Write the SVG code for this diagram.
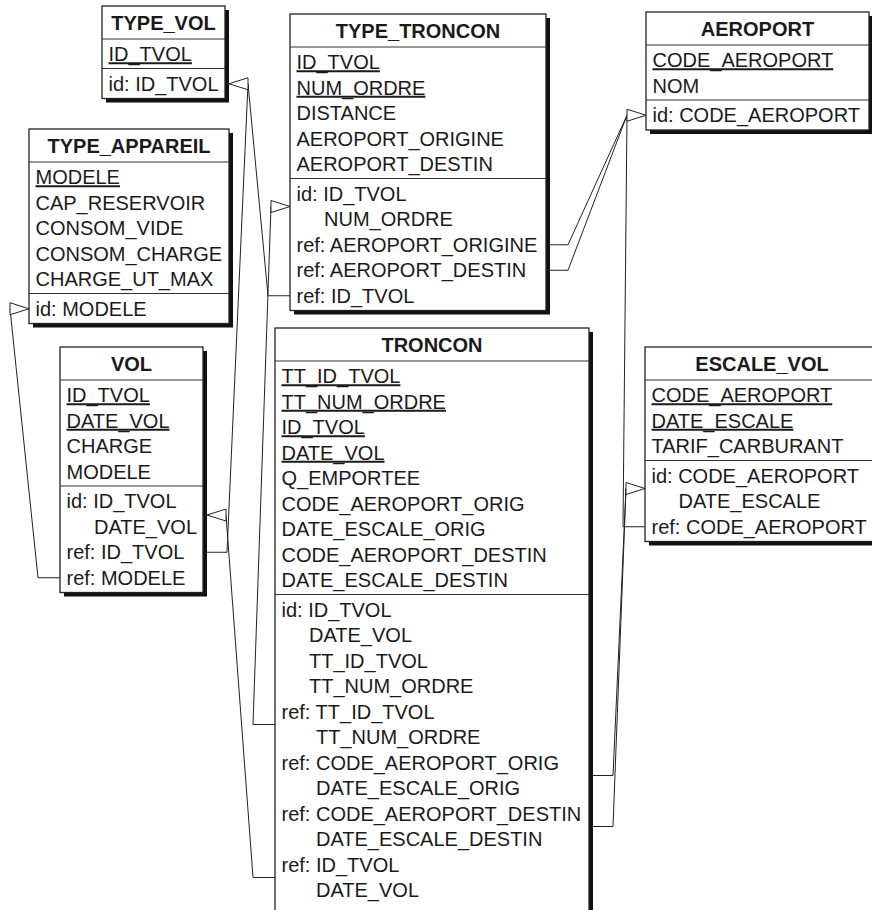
<svg xmlns="http://www.w3.org/2000/svg" xmlns:xlink="http://www.w3.org/1999/xlink" width="872" height="910" viewBox="0 0 872 910">
<style>
.shadow{fill:#111}
.box{fill:#fff;stroke:#222;stroke-width:1.3}
.sep{stroke:#333;stroke-width:1}
text{font-family:"Liberation Sans",Arial,Helvetica,sans-serif;font-size:20px;fill:#1a1a1a}
.title{font-weight:bold;text-anchor:middle}
.pk{text-decoration:underline}
.conn{fill:none;stroke:#222;stroke-width:1}
.arrow{fill:#fff;stroke:#222;stroke-width:1}
</style>
<defs>
<path id="arrR" class="arrow" d="M0,0 L-19,-6 L-19,6 Z"/>
<path id="arrL" class="arrow" d="M0,0 L19,-6 L19,6 Z"/>
</defs>
<rect width="872" height="910" fill="#fff"/>

<g id="connectors">
<polyline class="conn" points="290,295.75 268,295.75 248,83.75"/>
<polyline class="conn" points="207,552.25 227,552.25 248,83.75"/>
<use xlink:href="#arrL" x="229" y="83.75"/>
<polyline class="conn" points="60,577.75 38,577.75 10,308.75"/>
<use xlink:href="#arrR" x="29" y="308.75"/>
<polyline class="conn" points="275,724.5 253,724.5 271,206.5"/>
<use xlink:href="#arrR" x="290" y="206.5"/>
<polyline class="conn" points="275,877.5 253,877.5 226,515"/>
<use xlink:href="#arrL" x="207" y="515"/>
<polyline class="conn" points="550,244.75 568,244.75 627,115.25"/>
<polyline class="conn" points="550,270.25 568,270.25 627,115.25"/>
<polyline class="conn" points="645,526.75 623,526.75 627,115.25"/>
<use xlink:href="#arrR" x="646" y="115.25"/>
<polyline class="conn" points="593,775.5 613,775.5 626,488.5"/>
<polyline class="conn" points="593,826.5 613,826.5 626,488.5"/>
<use xlink:href="#arrR" x="645" y="488.5"/>
</g>

<g id="TYPE_VOL">
<rect class="shadow" x="106" y="10" width="123" height="92.5"/>
<rect class="box" x="102" y="6" width="123" height="92.5"/>
<line class="sep" x1="102" y1="39" x2="225" y2="39"/>
<line class="sep" x1="102" y1="68.5" x2="225" y2="68.5"/>
<text class="title" x="163.5" y="29.5">TYPE_VOL</text>
<text class="pk" x="108.5" y="61.25">ID_TVOL</text>
<text x="108.5" y="90.75">id: ID_TVOL</text>
</g>

<g id="TYPE_TRONCON">
<rect class="shadow" x="294" y="18" width="256" height="296.5"/>
<rect class="box" x="290" y="14" width="256" height="296.5"/>
<line class="sep" x1="290" y1="47" x2="546" y2="47"/>
<line class="sep" x1="290" y1="178.5" x2="546" y2="178.5"/>
<text class="title" x="418" y="37.5">TYPE_TRONCON</text>
<text class="pk" x="296.5" y="69.25">ID_TVOL</text>
<text class="pk" x="296.5" y="94.75">NUM_ORDRE</text>
<text x="296.5" y="120.25">DISTANCE</text>
<text x="296.5" y="145.75">AEROPORT_ORIGINE</text>
<text x="296.5" y="171.25">AEROPORT_DESTIN</text>
<text x="296.5" y="200.75">id: ID_TVOL</text>
<text x="324" y="226.25">NUM_ORDRE</text>
<text x="296.5" y="251.75">ref: AEROPORT_ORIGINE</text>
<text x="296.5" y="277.25">ref: AEROPORT_DESTIN</text>
<text x="296.5" y="302.75">ref: ID_TVOL</text>
</g>

<g id="AEROPORT">
<rect class="shadow" x="650" y="16" width="223" height="118"/>
<rect class="box" x="646" y="12" width="223" height="118"/>
<line class="sep" x1="646" y1="45" x2="869" y2="45"/>
<line class="sep" x1="646" y1="100" x2="869" y2="100"/>
<text class="title" x="757.5" y="35.5">AEROPORT</text>
<text class="pk" x="652.5" y="67.25">CODE_AEROPORT</text>
<text x="652.5" y="92.75">NOM</text>
<text x="652.5" y="122.25">id: CODE_AEROPORT</text>
</g>

<g id="TYPE_APPAREIL">
<rect class="shadow" x="33" y="133" width="200" height="194.5"/>
<rect class="box" x="29" y="129" width="200" height="194.5"/>
<line class="sep" x1="29" y1="162" x2="229" y2="162"/>
<line class="sep" x1="29" y1="293.5" x2="229" y2="293.5"/>
<text class="title" x="129" y="152.5">TYPE_APPAREIL</text>
<text class="pk" x="35.5" y="184.25">MODELE</text>
<text x="35.5" y="209.75">CAP_RESERVOIR</text>
<text x="35.5" y="235.25">CONSOM_VIDE</text>
<text x="35.5" y="260.75">CONSOM_CHARGE</text>
<text x="35.5" y="286.25">CHARGE_UT_MAX</text>
<text x="35.5" y="315.75">id: MODELE</text>
</g>

<g id="VOL">
<rect class="shadow" x="64" y="351" width="143" height="245.5"/>
<rect class="box" x="60" y="347" width="143" height="245.5"/>
<line class="sep" x1="60" y1="380" x2="203" y2="380"/>
<line class="sep" x1="60" y1="486" x2="203" y2="486"/>
<text class="title" x="131.5" y="370.5">VOL</text>
<text class="pk" x="66.5" y="402.25">ID_TVOL</text>
<text class="pk" x="66.5" y="427.75">DATE_VOL</text>
<text x="66.5" y="453.25">CHARGE</text>
<text x="66.5" y="478.75">MODELE</text>
<text x="66.5" y="508.25">id: ID_TVOL</text>
<text x="94" y="533.75">DATE_VOL</text>
<text x="66.5" y="559.25">ref: ID_TVOL</text>
<text x="66.5" y="584.75">ref: MODELE</text>
</g>

<g id="TRONCON">
<rect class="shadow" x="279" y="332" width="314" height="620"/>
<rect class="box" x="275" y="328" width="314" height="620"/>
<line class="sep" x1="275" y1="361" x2="589" y2="361"/>
<line class="sep" x1="275" y1="594.5" x2="589" y2="594.5"/>
<text class="title" x="432" y="351.5">TRONCON</text>
<text class="pk" x="281.5" y="383.25">TT_ID_TVOL</text>
<text class="pk" x="281.5" y="408.75">TT_NUM_ORDRE</text>
<text class="pk" x="281.5" y="434.25">ID_TVOL</text>
<text class="pk" x="281.5" y="459.75">DATE_VOL</text>
<text x="281.5" y="485.25">Q_EMPORTEE</text>
<text x="281.5" y="510.75">CODE_AEROPORT_ORIG</text>
<text x="281.5" y="536.25">DATE_ESCALE_ORIG</text>
<text x="281.5" y="561.75">CODE_AEROPORT_DESTIN</text>
<text x="281.5" y="587.25">DATE_ESCALE_DESTIN</text>
<text x="281.5" y="616.75">id: ID_TVOL</text>
<text x="309" y="642.25">DATE_VOL</text>
<text x="309" y="667.75">TT_ID_TVOL</text>
<text x="309" y="693.25">TT_NUM_ORDRE</text>
<text x="281.5" y="718.75">ref: TT_ID_TVOL</text>
<text x="316" y="744.25">TT_NUM_ORDRE</text>
<text x="281.5" y="769.75">ref: CODE_AEROPORT_ORIG</text>
<text x="316" y="795.25">DATE_ESCALE_ORIG</text>
<text x="281.5" y="820.75">ref: CODE_AEROPORT_DESTIN</text>
<text x="316" y="846.25">DATE_ESCALE_DESTIN</text>
<text x="281.5" y="871.75">ref: ID_TVOL</text>
<text x="316" y="897.25">DATE_VOL</text>
</g>

<g id="ESCALE_VOL">
<rect class="shadow" x="649" y="351" width="234" height="194.5"/>
<rect class="box" x="645" y="347" width="234" height="194.5"/>
<line class="sep" x1="645" y1="380" x2="879" y2="380"/>
<line class="sep" x1="645" y1="460.5" x2="879" y2="460.5"/>
<text class="title" x="762" y="370.5">ESCALE_VOL</text>
<text class="pk" x="651.5" y="402.25">CODE_AEROPORT</text>
<text class="pk" x="651.5" y="427.75">DATE_ESCALE</text>
<text x="651.5" y="453.25">TARIF_CARBURANT</text>
<text x="651.5" y="482.75">id: CODE_AEROPORT</text>
<text x="678.5" y="508.25">DATE_ESCALE</text>
<text x="651.5" y="533.75">ref: CODE_AEROPORT</text>
</g>
</svg>
